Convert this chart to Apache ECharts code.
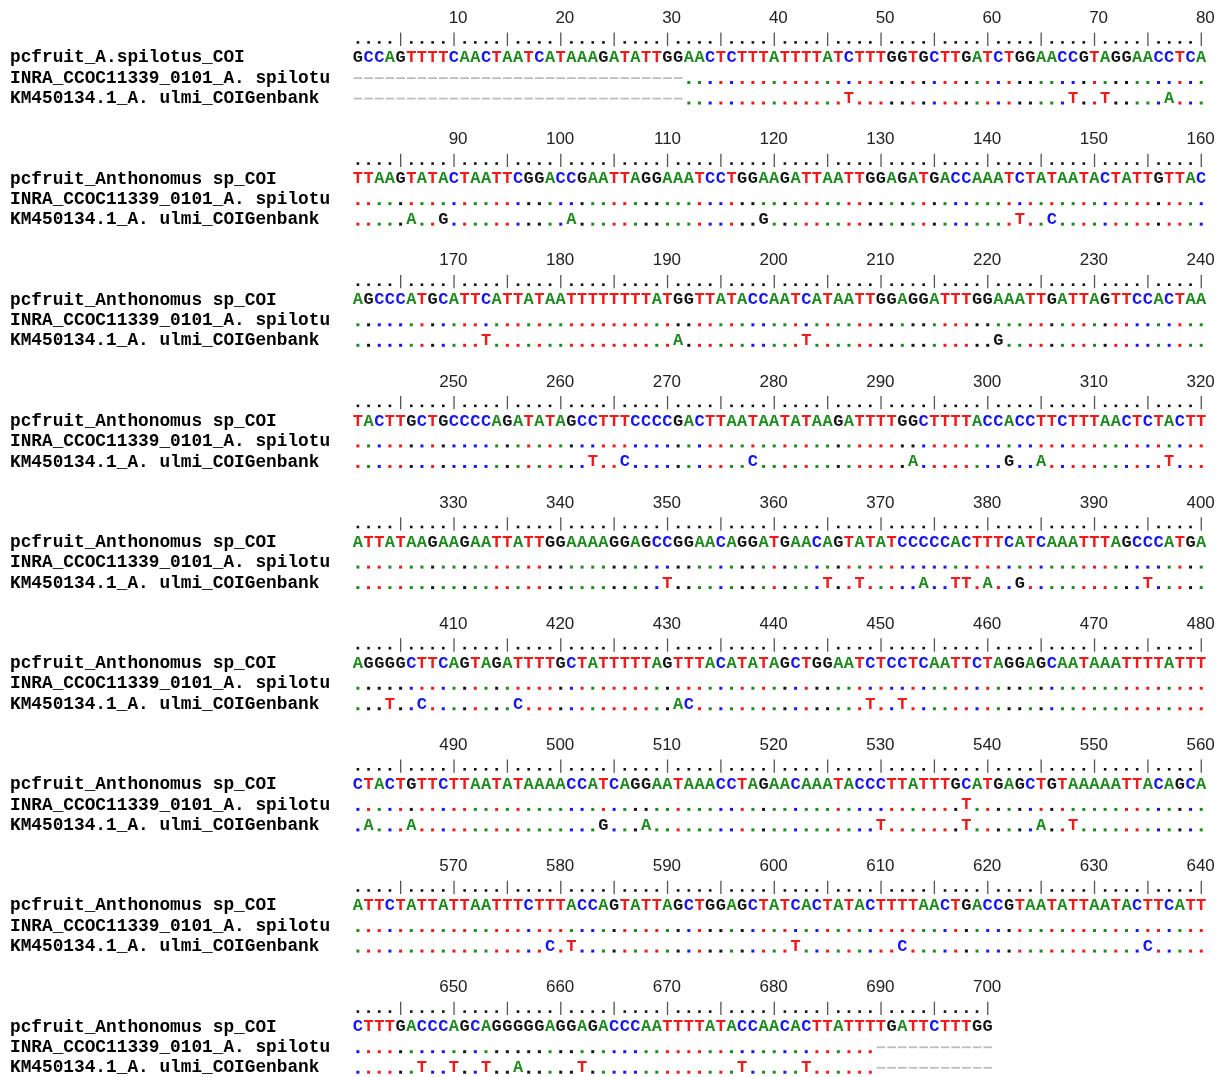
<!DOCTYPE html>
<html><head><meta charset="utf-8">
<script src="https://cdn.jsdelivr.net/npm/echarts@6/dist/echarts.min.js"></script>
<style>html,body{margin:0;padding:0;background:#fff}#chart{width:1223px;height:1077px}</style>
</head><body><div id="chart"></div>
<script>
// ---------------- DATA ----------------
const namesFirstBlock = ['pcfruit_A.spilotus_COI', 'INRA_CCOC11339_0101_A. spilotu', 'KM450134.1_A. ulmi_COIGenbank'];
const namesOtherBlocks = ['pcfruit_Anthonomus sp_COI', 'INRA_CCOC11339_0101_A. spilotu', 'KM450134.1_A. ulmi_COIGenbank'];
const refBlocks = [
  'GCCAGTTTTCAACTAATCATAAAGATATTGGAACTCTTTATTTTATCTTTGGTGCTTGATCTGGAACCGTAGGAACCTCA',
  'TTAAGTATACTAATTCGGACCGAATTAGGAAATCCTGGAAGATTAATTGGAGATGACCAAATCTATAATACTATTGTTAC',
  'AGCCCATGCATTCATTATAATTTTTTTTATGGTTATACCAATCATAATTGGAGGATTTGGAAATTGATTAGTTCCACTAA',
  'TACTTGCTGCCCCAGATATAGCCTTTCCCCGACTTAATAATATAAGATTTTGGCTTTTACCACCTTCTTTAACTCTACTT',
  'ATTATAAGAAGAATTATTGGAAAAGGAGCCGGAACAGGATGAACAGTATATCCCCCACTTTCATCAAATTTAGCCCATGA',
  'AGGGGCTTCAGTAGATTTTGCTATTTTTAGTTTACATATAGCTGGAATCTCCTCAATTCTAGGAGCAATAAATTTTATTT',
  'CTACTGTTCTTAATATAAAACCATCAGGAATAAACCTAGAACAAATACCCTTATTTGCATGAGCTGTAAAAATTACAGCA',
  'ATTCTATTATTAATTTCTTTACCAGTATTAGCTGGAGCTATCACTATACTTTTAACTGACCGTAATATTAATACTTCATT',
  'CTTTGACCCAGCAGGGGGAGGAGACCCAATTTTATACCAACACTTATTTTGATTCTTTGG'
];
// gaps (inclusive alignment positions) and substitutions [position, base]
const inraGaps = [[1, 31], [690, 700]];
const inraDiffs = [[538, 'T']];
const kmGaps = [[1, 31], [690, 700]];
const kmDiffs = [
  [47,'T'],[68,'T'],[71,'T'],[77,'A'],
  [86,'A'],[89,'G'],[101,'A'],[119,'G'],[143,'T'],[146,'C'],
  [173,'T'],[191,'A'],[203,'T'],[221,'G'],
  [263,'T'],[266,'C'],[278,'C'],[293,'A'],[302,'G'],[305,'A'],[317,'T'],
  [350,'T'],[365,'T'],[368,'T'],[374,'A'],[377,'T'],[378,'T'],[380,'A'],[383,'G'],[395,'T'],
  [404,'T'],[407,'C'],[416,'C'],[431,'A'],[432,'C'],[449,'T'],[452,'T'],
  [482,'A'],[486,'A'],[504,'G'],[508,'A'],[530,'T'],[538,'T'],[545,'A'],[548,'T'],
  [579,'C'],[581,'T'],[602,'T'],[612,'C'],[635,'C'],
  [647,'T'],[650,'T'],[653,'T'],[656,'A'],[662,'T'],[677,'T'],[683,'T']
];
const blockSize = 80;
const rulerMinorEvery = 5;
const rulerLabelEvery = 10;

// ---------------- STYLE / LAYOUT ----------------
const baseColor = { A: '#1f8a1f', C: '#1717f5', G: '#151515', T: '#f01a1a' };
const blockPitch = 121.15;
const rowY = { num: 18.4, ruler: 39.3, rdot: 42.4, r0: 57.9, r1: 78.2, r2: 98.7 };
const monoFont = '"Liberation Mono", "Courier New", monospace';

// ---------------- BUILD GLYPHS ----------------
function inGaps(gaps, pos) { return gaps.some(g => pos >= g[0] && pos <= g[1]); }
const inraMap = new Map(inraDiffs), kmMap = new Map(kmDiffs);
const glyphs = [];
refBlocks.forEach((ref, b) => {
  const base = b * blockPitch;
  const names = b === 0 ? namesFirstBlock : namesOtherBlocks;
  names.forEach((nm, r) => glyphs.push({ kind: 'name', col: 1, y: base + rowY['r' + r], text: nm }));
  for (let p = 1; p <= ref.length; p++) {
    const gpos = b * blockSize + p;
    if (p % rulerLabelEvery === 0) glyphs.push({ kind: 'num', col: p, y: base + rowY.num, text: String(gpos) });
    if (p % rulerMinorEvery === 0) glyphs.push({ kind: 'pipe', col: p, y: base + rowY.ruler });
    else glyphs.push({ kind: 'rdot', col: p, y: base + rowY.rdot });
    const ch = ref[p - 1];
    glyphs.push({ kind: 'letter', col: p, y: base + rowY.r0, text: ch, color: baseColor[ch] });
    [[inraGaps, inraMap, 'r1'], [kmGaps, kmMap, 'r2']].forEach(([gaps, map, rk]) => {
      const y = base + rowY[rk];
      if (inGaps(gaps, gpos)) glyphs.push({ kind: 'dash', col: p, y });
      else if (map.has(gpos)) { const d = map.get(gpos); glyphs.push({ kind: 'letter', col: p, y, text: d, color: baseColor[d] }); }
      else glyphs.push({ kind: 'dot', col: p, y, color: baseColor[ch] });
    });
  }
});

// ---------------- CHART ----------------
const chart = echarts.init(document.getElementById('chart'), null, { renderer: 'canvas' });
const colW = 10.675;
const gridLeft = 357.9 - colW / 2;
chart.setOption({
  animation: false,
  backgroundColor: '#ffffff',
  grid: { left: gridLeft, width: colW * blockSize, top: 0, height: 1077 },
  xAxis: { type: 'value', min: 0.5, max: blockSize + 0.5, show: false },
  yAxis: { type: 'value', min: 0, max: 1077, inverse: true, show: false },
  series: [{
    type: 'custom',
    silent: true,
    clip: false,
    data: glyphs.map(g => [g.col, g.y]),
    renderItem: function (params, api) {
      const g = glyphs[params.dataIndex];
      const pt = api.coord([api.value(0), api.value(1)]);
      switch (g.kind) {
        case 'name':
          return { type: 'text', x: 10, y: pt[1], style: { text: g.text, fill: '#000', fontFamily: monoFont, fontWeight: 'bold', fontSize: 17.8, align: 'left', verticalAlign: 'middle' } };
        case 'num':
          return { type: 'text', x: pt[0] + 13.6, y: pt[1], style: { text: g.text, fill: '#222', fontFamily: '"Liberation Sans", Arial, sans-serif', fontSize: 17, align: 'right', verticalAlign: 'middle' } };
        case 'pipe':
          return { type: 'rect', shape: { x: pt[0] - 0.6, y: pt[1] - 6.7, width: 1.3, height: 13.3 }, style: { fill: '#555' } };
        case 'rdot':
          return { type: 'rect', shape: { x: pt[0] - 1.3, y: pt[1] - 1.3, width: 2.6, height: 2.6 }, style: { fill: '#111' } };
        case 'letter':
          return { type: 'text', x: pt[0], y: pt[1], style: { text: g.text, fill: g.color, fontFamily: monoFont, fontWeight: 'bold', fontSize: 17, align: 'center', verticalAlign: 'middle' } };
        case 'dot':
          return { type: 'rect', shape: { x: pt[0] - 1.5, y: pt[1] + 2.8, width: 3, height: 3 }, style: { fill: g.color } };
        case 'dash':
          return { type: 'rect', shape: { x: pt[0] - 4.3, y: pt[1] - 1, width: 8.6, height: 1.8 }, style: { fill: '#bdbdbd' } };
      }
    }
  }]
});
</script>
</body></html>
